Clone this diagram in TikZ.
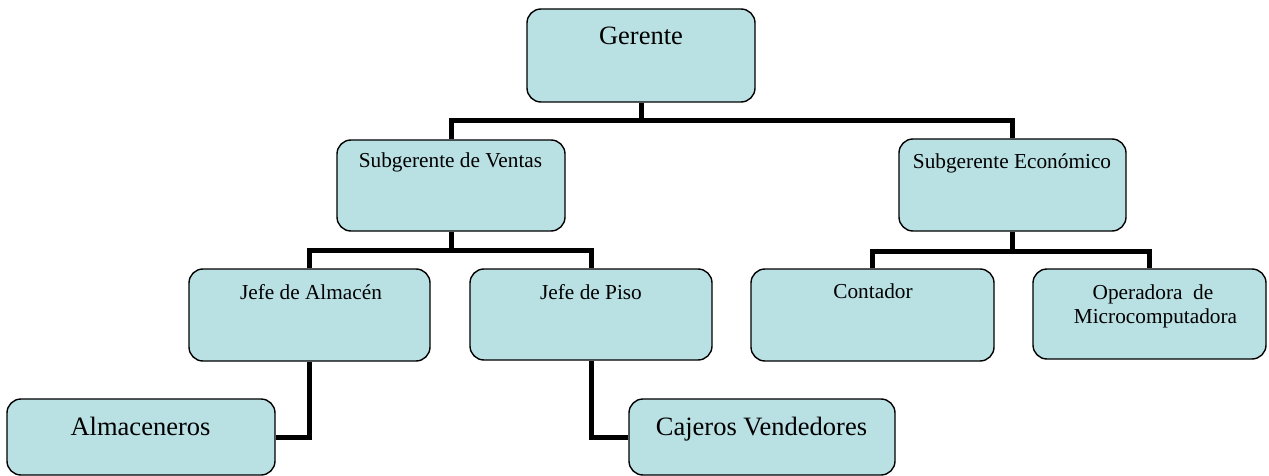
\documentclass[tikz,border=0pt]{standalone}
\usepackage{fontspec}
\setmainfont{Liberation Serif}
\definecolor{boxfill}{RGB}{185,224,227}
\begin{document}
\begin{tikzpicture}[x=1pt,y=-1pt,
  box/.style={draw=black, line width=1.4pt, fill=boxfill, rounded corners=14pt, inner sep=0pt},
  big/.style={font=\fontsize{26.5}{30}\selectfont, anchor=base, inner sep=0pt},
  small/.style={font=\fontsize{21.3}{24}\selectfont, anchor=base, inner sep=0pt},
  link/.style={draw=black, line width=5pt, line join=miter}]
\useasboundingbox (0,0) rectangle (1269,476);
% boxes
\node[box, minimum width=228pt, minimum height=93pt] (ger) at (641,55.5) {};
\node[box, minimum width=228pt, minimum height=91pt] (sv) at (451,185.5) {};
\node[box, minimum width=227pt, minimum height=92pt] (se) at (1012.5,185) {};
\node[box, minimum width=241pt, minimum height=92pt] (ja) at (309.5,315) {};
\node[box, minimum width=242pt, minimum height=91pt] (jp) at (591,314.5) {};
\node[box, minimum width=243pt, minimum height=92pt] (con) at (872.5,315) {};
\node[box, minimum width=233pt, minimum height=90pt] (op) at (1149.5,314) {};
\node[box, minimum width=268pt, minimum height=76pt] (alm) at (141,437) {};
\node[box, minimum width=266pt, minimum height=76pt] (caj) at (762,437) {};
% labels
\node[big] (gerT) at (641,45) {Gerente};
\node[small] (svT) at (450.5,167.3) {Subgerente de Ventas};
\node[small] (seT) at (1012,168) {Subgerente Económico};
\node[small] (jaT) at (311,299) {Jefe de Almacén};
\node[small] (jpT) at (591,299) {Jefe de Piso};
\node[small] (conT) at (873,298) {Contador};
\node[small] (opT1) at (1153,299) {Operadora\ \ de};
\node[small] (opT2) at (1155.5,323) {Microcomputadora};
\node[big] (almT) at (140.5,435.7) {Almaceneros};
\node[big] (cajT) at (761.5,435.7) {Cajeros Vendedores};
% connectors
\draw[link] (ger.south) -- ++(0,18) coordinate (gj);
\draw[link] (sv.north) |- (gj) -| (se.north);
\draw[link] (sv.south) -- ++(0,19) coordinate (svj);
\draw[link] (ja.north) |- (svj) -| (jp.north);
\draw[link] (se.south) -- ++(0,20) coordinate (sej);
\draw[link] (con.north) |- (sej) -| (op.north);
\draw[link] (ja.south) |- (alm.east);
\draw[link] (jp.south) |- (caj.west);
\end{tikzpicture}
\end{document}
